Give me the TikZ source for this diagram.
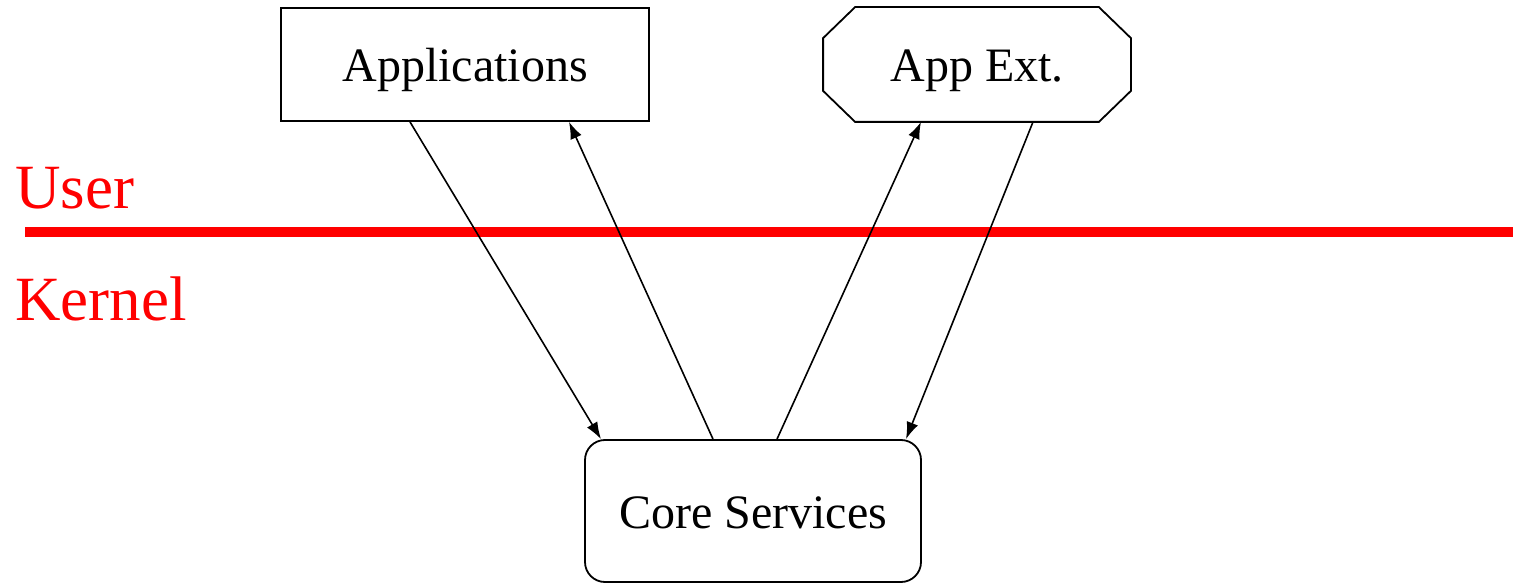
\documentclass[tikz,border=0pt]{standalone}
\usepackage{fontspec}
\setmainfont{Liberation Serif}
\usetikzlibrary{arrows.meta,calc}
\newcommand{\lowertext}[2]{\raisebox{-#1}[0pt][0pt]{#2}}
\begin{document}
\begin{tikzpicture}[x=0.5pt,y=-0.5pt,
  box/.style={line width=0.9pt,inner sep=0pt,font=\fontsize{24}{28}\selectfont,text=black},
  conn/.style={draw=black,line width=0.8pt,-{Latex[length=8.5pt,width=6pt]}},
  layer/.style={text=red,inner sep=0pt,anchor=base west,font=\fontsize{31.5}{36}\selectfont},
  redline/.style={draw=red,line width=5pt}]
\useasboundingbox (0,0) rectangle (1516,583);
\node[box,draw=black,rectangle,minimum width=184pt,minimum height=56.5pt] (apps) at (465,64.5) {\lowertext{8.6pt}{Applications}};
\node[box,rectangle,minimum width=153pt,minimum height=56.5pt] (ext) at (977,64.5) {\lowertext{8.6pt}{App Ext.}};
\draw[black,line width=0.9pt] ($(ext.north west)+(32,0)$) -- ($(ext.north east)+(-32,0)$) -- ($(ext.north east)+(0,31)$) -- ($(ext.south east)+(0,-31)$) -- ($(ext.south east)+(-32,0)$) -- ($(ext.south west)+(32,0)$) -- ($(ext.south west)+(0,-31)$) -- ($(ext.north west)+(0,31)$) -- cycle;
\node[box,draw=black,rectangle,rounded corners=10pt,minimum width=168pt,minimum height=71pt] (core) at (753,511) {\lowertext{8.8pt}{Core Services}};
\coordinate (l1) at (25,232);
\coordinate (l2) at (1513,232);
\draw[redline] (l1) -- (l2);
\node[layer] (user) at (15,208) {User};
\node[layer] (kernel) at (15,320) {Kernel};
\draw[conn] ($(apps.south)+(-55,0)$) -- ($(core.north)+(-152,0)$);
\draw[conn] ($(core.north)+(-40,0)$) -- ($(apps.south)+(104,0)$);
\draw[conn] ($(core.north)+(24,0)$) -- ($(ext.south)+(-56,0)$);
\draw[conn] ($(ext.south)+(56,0)$) -- ($(core.north)+(153,0)$);
\end{tikzpicture}
\end{document}
